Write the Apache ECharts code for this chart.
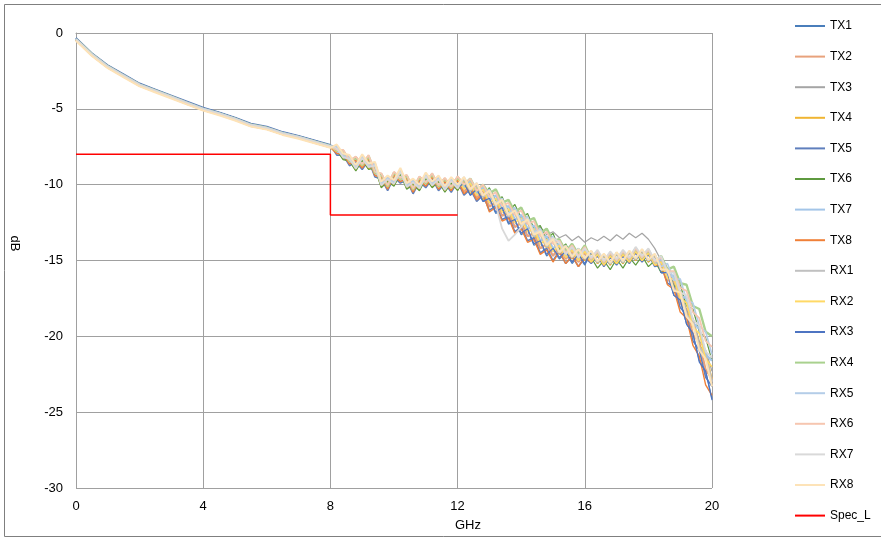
<!DOCTYPE html>
<html><head><meta charset="utf-8">
<script src="https://cdn.jsdelivr.net/npm/echarts@6/dist/echarts.min.js"></script>
<style>html,body{margin:0;padding:0;background:#fff}#c{width:881px;height:539px}</style>
</head><body><div id="c"></div><script>
const freq = [0,0.5,1,1.5,2,2.5,3,3.5,4,4.5,5,5.5,6,6.5,7,7.5,8,
8.2,8.4,8.6,8.8,9,9.2,9.4,9.6,9.8,10,10.2,10.4,10.6,10.8,11,11.2,11.4,11.6,11.8,12,
12.2,12.4,12.6,12.8,13,13.2,13.4,13.6,13.8,14,14.2,14.4,14.6,14.8,15,15.2,15.4,15.6,15.8,16,
16.2,16.4,16.6,16.8,17,17.2,17.4,17.6,17.8,18,18.2,18.4,18.6,18.8,19,19.2,19.4,19.6,19.8,20];

const tx1 = [-0.35,-1.35,-2.15,-2.75,-3.35,-3.75,-4.15,-4.55,-4.95,-5.25,-5.6,-6.0,-6.2,-6.55,-6.8,-7.1,-7.4,
-7.65,-8.25,-8.35,-9.0,-8.3,-8.9,-8.8,-10.1,-9.7,-10.0,-9.2,-10.2,-9.9,-10.3,-9.5,-10.1,-9.7,-10.4,-9.8,-10.3,
-9.9,-10.7,-10.3,-11.1,-11.0,-11.9,-11.6,-12.6,-12.4,-13.3,-13.0,-14.0,-13.8,-14.7,-14.3,-14.9,-14.5,-15.2,-14.7,-15.3,
-14.5,-15.2,-14.7,-15.3,-14.6,-15.2,-14.5,-15.0,-14.4,-15.1,-14.7,-15.8,-15.9,-17.3,-17.6,-19.2,-19.8,-21.6,-22.3,-24.1];
const tx2 = [-0.45,-1.45,-2.25,-2.85,-3.45,-3.85,-4.25,-4.65,-5.05,-5.35,-5.7,-6.1,-6.3,-6.65,-6.9,-7.2,-7.5,
-7.9,-7.9,-8.6,-8.35,-8.85,-8.25,-9.35,-9.45,-10.25,-9.35,-9.75,-9.55,-10.45,-9.65,-10.05,-9.45,-10.25,-9.75,-10.35,-9.65,
-10.45,-10.05,-10.85,-10.45,-11.45,-11.15,-12.05,-11.85,-12.8,-12.5,-13.4,-13.2,-14.2,-13.9,-14.7,-14.1,-14.9,-14.4,-15.1,-14.5,
-15.0,-14.5,-15.2,-14.6,-15.1,-14.5,-15.0,-14.3,-14.9,-14.4,-15.2,-15.1,-16.3,-16.4,-17.8,-18.2,-19.9,-20.4,-22.2,-22.8];
const tx3 = [-0.4,-1.4,-2.2,-2.8,-3.4,-3.8,-4.2,-4.6,-5.0,-5.3,-5.65,-6.05,-6.25,-6.6,-6.85,-7.15,-7.45,
-7.55,-8.15,-8.25,-8.9,-8.2,-8.8,-8.7,-10.0,-9.6,-9.9,-9.1,-10.1,-9.8,-10.2,-9.3,-9.6,-9.5,-9.9,-9.6,-9.8,
-9.7,-10.3,-10.1,-10.7,-10.6,-11.3,-11.2,-12.0,-11.8,-12.4,-12.3,-12.9,-12.8,-13.3,-13.1,-13.5,-13.3,-13.7,-13.4,-13.8,
-13.5,-13.7,-13.4,-13.7,-13.3,-13.6,-13.2,-13.5,-13.2,-13.6,-14.2,-15.0,-15.5,-16.6,-17.0,-18.3,-18.8,-20.3,-20.9,-22.3];
const tx4 = [-0.4,-1.4,-2.2,-2.8,-3.4,-3.8,-4.2,-4.6,-5.0,-5.3,-5.65,-6.05,-6.25,-6.6,-6.85,-7.15,-7.45,
-7.7,-8.3,-8.4,-9.05,-8.35,-8.95,-8.85,-10.15,-9.75,-10.05,-9.25,-10.25,-9.95,-10.35,-9.55,-10.15,-9.75,-10.45,-9.85,-10.35,
-9.8,-10.6,-10.2,-11.0,-10.6,-11.5,-11.2,-12.2,-11.9,-12.8,-12.5,-13.5,-13.3,-14.2,-13.8,-14.6,-14.2,-14.9,-14.4,-15.0,
-14.5,-15.2,-14.7,-15.3,-14.6,-15.2,-14.5,-15.0,-14.4,-15.1,-14.7,-15.7,-15.6,-16.9,-17.0,-18.5,-18.9,-20.6,-21.1,-22.8];
const tx5 = [-0.32,-1.32,-2.12,-2.72,-3.32,-3.72,-4.12,-4.52,-4.92,-5.22,-5.57,-5.97,-6.17,-6.52,-6.77,-7.07,-7.37,
-8.05,-8.05,-8.75,-8.5,-9.0,-8.4,-9.5,-9.6,-10.4,-9.5,-9.9,-9.7,-10.6,-9.8,-10.2,-9.6,-10.4,-9.9,-10.5,-9.8,
-10.7,-10.3,-11.1,-10.7,-11.7,-11.4,-12.3,-12.1,-13.1,-12.8,-13.7,-13.5,-14.5,-14.2,-15.0,-14.4,-15.2,-14.7,-15.4,-14.8,
-15.2,-14.7,-15.4,-14.8,-15.3,-14.7,-15.2,-14.5,-15.1,-14.6,-15.4,-15.3,-16.5,-16.7,-18.1,-18.6,-20.3,-20.9,-22.7,-23.3];
const tx6 = [-0.4,-1.4,-2.2,-2.8,-3.4,-3.8,-4.2,-4.6,-5.0,-5.3,-5.65,-6.05,-6.25,-6.6,-6.85,-7.15,-7.45,
-7.75,-8.35,-8.45,-9.1,-8.4,-9.0,-8.9,-10.2,-9.8,-10.1,-9.3,-10.3,-10.0,-10.4,-9.6,-10.2,-9.8,-10.5,-9.9,-10.4,
-9.6,-10.4,-10.0,-10.8,-10.2,-11.1,-10.8,-11.8,-11.3,-12.2,-11.9,-12.9,-12.7,-13.6,-13.2,-14.3,-13.9,-14.7,-14.2,-14.9,
-14.8,-15.5,-15.0,-15.6,-14.9,-15.5,-14.8,-15.3,-14.7,-15.4,-15.0,-15.8,-15.6,-16.7,-16.6,-18.0,-18.2,-19.7,-20.1,-21.6];
const tx7 = [-0.4,-1.4,-2.2,-2.8,-3.4,-3.8,-4.2,-4.6,-5.0,-5.3,-5.65,-6.05,-6.25,-6.6,-6.85,-7.15,-7.45,
-7.85,-7.85,-8.55,-8.3,-8.8,-8.2,-9.3,-9.4,-10.2,-9.3,-9.7,-9.5,-10.4,-9.6,-10.0,-9.4,-10.2,-9.7,-10.3,-9.6,
-10.2,-9.8,-10.6,-10.2,-11.0,-10.7,-11.6,-11.4,-12.3,-12.0,-12.9,-12.7,-13.7,-13.4,-14.2,-13.9,-14.7,-14.2,-14.9,-14.3,
-15.0,-14.5,-15.2,-14.6,-15.1,-14.5,-15.0,-14.3,-14.9,-14.4,-15.2,-14.9,-16.0,-16.0,-17.3,-17.5,-19.1,-19.5,-21.2,-21.6];
const tx8 = [-0.5,-1.5,-2.3,-2.9,-3.5,-3.9,-4.3,-4.7,-5.1,-5.4,-5.75,-6.15,-6.35,-6.7,-6.95,-7.25,-7.55,
-7.95,-7.95,-8.65,-8.4,-8.9,-8.3,-9.4,-9.5,-10.3,-9.4,-9.8,-9.6,-10.5,-9.7,-10.1,-9.5,-10.3,-9.8,-10.4,-9.7,
-10.6,-10.2,-11.0,-10.6,-11.8,-11.5,-12.4,-12.2,-13.2,-12.9,-13.8,-13.6,-14.6,-14.3,-15.1,-14.4,-15.2,-14.7,-15.4,-14.8,
-15.1,-14.6,-15.3,-14.7,-15.2,-14.6,-15.1,-14.4,-15.0,-14.5,-15.3,-15.3,-16.6,-16.9,-18.4,-18.8,-20.6,-21.3,-23.2,-23.9];
const rx1 = [-0.4,-1.4,-2.2,-2.8,-3.4,-3.8,-4.2,-4.6,-5.0,-5.3,-5.65,-6.05,-6.25,-6.6,-6.85,-7.15,-7.45,
-7.45,-8.05,-8.15,-8.8,-8.1,-8.7,-8.6,-9.9,-9.5,-9.8,-9.0,-10.0,-9.7,-10.1,-9.3,-9.9,-9.5,-10.2,-9.6,-10.1,
-9.6,-10.4,-10.0,-10.8,-10.5,-11.4,-11.1,-12.1,-11.8,-12.7,-12.4,-13.4,-13.2,-14.1,-13.7,-14.5,-14.1,-14.8,-14.3,-14.9,
-14.4,-15.1,-14.6,-15.2,-14.5,-15.1,-14.4,-14.9,-14.3,-15.0,-14.6,-15.6,-15.6,-16.9,-17.0,-18.6,-19.0,-20.7,-21.3,-23.0];
const rx2 = [-0.45,-1.45,-2.25,-2.85,-3.45,-3.85,-4.25,-4.65,-5.05,-5.35,-5.7,-6.1,-6.3,-6.65,-6.9,-7.2,-7.5,
-7.8,-7.8,-8.5,-8.25,-8.75,-8.15,-9.25,-9.35,-10.15,-9.25,-9.65,-9.45,-10.35,-9.55,-9.95,-9.35,-10.15,-9.65,-10.25,-9.55,
-10.3,-9.9,-10.7,-10.3,-11.2,-10.9,-11.8,-11.6,-12.5,-12.2,-13.1,-12.9,-13.9,-13.6,-14.4,-14.0,-14.8,-14.3,-15.0,-14.4,
-15.1,-14.6,-15.3,-14.7,-15.2,-14.6,-15.1,-14.4,-15.0,-14.5,-15.3,-15.1,-16.2,-16.2,-17.5,-17.8,-19.4,-19.8,-21.5,-22.0];
const rx3 = [-0.35,-1.35,-2.15,-2.75,-3.35,-3.75,-4.15,-4.55,-4.95,-5.25,-5.6,-6.0,-6.2,-6.55,-6.8,-7.1,-7.4,
-7.55,-8.15,-8.25,-8.9,-8.2,-8.8,-8.7,-10.0,-9.6,-9.9,-9.1,-10.1,-9.8,-10.2,-9.4,-10.0,-9.6,-10.3,-9.7,-10.2,
-9.9,-10.7,-10.3,-11.1,-10.9,-11.8,-11.5,-12.5,-12.3,-13.2,-12.9,-13.9,-13.7,-14.6,-14.2,-14.8,-14.4,-15.1,-14.6,-15.2,
-14.4,-15.1,-14.6,-15.2,-14.5,-15.1,-14.4,-14.9,-14.3,-15.0,-14.6,-15.8,-15.8,-17.3,-17.6,-19.2,-19.8,-21.7,-22.3,-24.2];
const rx4 = [-0.4,-1.4,-2.2,-2.8,-3.4,-3.8,-4.2,-4.6,-5.0,-5.3,-5.65,-6.05,-6.25,-6.6,-6.85,-7.15,-7.45,
-7.75,-7.75,-8.45,-8.2,-8.7,-8.1,-9.2,-9.3,-10.1,-9.2,-9.6,-9.4,-10.3,-9.5,-9.9,-9.3,-10.1,-9.6,-10.2,-9.5,
-10.0,-9.6,-10.4,-10.0,-10.6,-10.3,-11.2,-11.0,-11.8,-11.5,-12.4,-12.2,-13.2,-12.9,-13.7,-13.6,-14.4,-13.9,-14.6,-14.0,
-14.9,-14.4,-15.1,-14.5,-15.0,-14.4,-14.9,-14.2,-14.8,-14.3,-15.1,-14.7,-15.6,-15.4,-16.5,-16.6,-18.0,-18.2,-19.7,-20.0];
const rx5 = [-0.4,-1.4,-2.2,-2.8,-3.4,-3.8,-4.2,-4.6,-5.0,-5.3,-5.65,-6.05,-6.25,-6.6,-6.85,-7.15,-7.45,
-7.5,-8.1,-8.2,-8.85,-8.15,-8.75,-8.65,-9.95,-9.55,-9.85,-9.05,-10.05,-9.75,-10.15,-9.35,-9.95,-9.55,-10.25,-9.65,-10.15,
-9.5,-10.3,-9.9,-10.7,-10.3,-11.2,-10.9,-11.9,-11.5,-12.4,-12.1,-13.1,-12.9,-13.8,-13.4,-14.4,-14.0,-14.7,-14.2,-14.8,
-14.4,-15.1,-14.6,-15.2,-14.5,-15.1,-14.4,-14.9,-14.3,-15.0,-14.6,-15.4,-15.2,-16.3,-16.2,-17.6,-17.8,-19.3,-19.7,-21.2];
const rx6 = [-0.45,-1.45,-2.25,-2.85,-3.45,-3.85,-4.25,-4.65,-5.05,-5.35,-5.7,-6.1,-6.3,-6.65,-6.9,-7.2,-7.5,
-7.7,-7.7,-8.4,-8.15,-8.65,-8.05,-9.15,-9.25,-10.05,-9.15,-9.55,-9.35,-10.25,-9.45,-9.85,-9.25,-10.05,-9.55,-10.15,-9.45,
-10.0,-9.6,-10.4,-10.0,-10.8,-10.5,-11.4,-11.2,-12.0,-11.7,-12.6,-12.4,-13.4,-13.1,-13.9,-13.7,-14.5,-14.0,-14.7,-14.1,
-14.9,-14.4,-15.1,-14.5,-15.0,-14.4,-14.9,-14.2,-14.8,-14.3,-15.1,-14.8,-15.7,-15.7,-16.8,-17.0,-18.4,-18.8,-20.3,-20.7];
const rx7 = [-0.4,-1.4,-2.2,-2.8,-3.4,-3.8,-4.2,-4.6,-5.0,-5.3,-5.65,-6.05,-6.25,-6.6,-6.85,-7.15,-7.45,
-7.6,-8.2,-8.3,-8.95,-8.25,-8.85,-8.75,-10.05,-9.65,-9.95,-9.15,-10.15,-9.85,-10.25,-9.45,-10.05,-9.65,-10.35,-9.75,-10.25,
-9.5,-10.3,-9.9,-10.7,-10.4,-11.3,-12.9,-13.7,-13.3,-12.8,-12.2,-13.2,-13.0,-13.9,-13.5,-13.8,-14.6,-14.1,-14.8,-14.2,
-14.8,-14.3,-15.0,-14.4,-14.9,-14.3,-14.8,-14.1,-14.7,-14.2,-15.0,-14.7,-15.8,-15.8,-17.1,-17.3,-18.9,-19.3,-21.0,-21.4];
const rx8 = [-0.52,-1.52,-2.32,-2.92,-3.52,-3.92,-4.32,-4.72,-5.12,-5.42,-5.77,-6.17,-6.37,-6.72,-6.97,-7.27,-7.57,
-7.35,-7.95,-8.05,-8.7,-8.0,-8.6,-8.5,-9.8,-9.4,-9.7,-8.9,-9.9,-9.6,-10.0,-9.2,-9.8,-9.4,-10.1,-9.5,-10.0,
-9.5,-10.3,-9.9,-10.7,-10.4,-11.3,-11.0,-12.0,-11.7,-12.6,-12.3,-13.3,-13.1,-14.0,-13.6,-14.45,-14.05,-14.75,-14.25,-14.85,
-14.35,-15.05,-14.55,-15.15,-14.45,-15.05,-14.35,-14.85,-14.25,-14.95,-14.55,-15.6,-15.6,-17.0,-17.1,-18.7,-19.2,-20.9,-21.5,-23.3];

const specX = [0, 8, 8, 12];
const specY = [-8, -8, -12, -12];

const xTicks = [0, 4, 8, 12, 16, 20];
const yTicks = [-30, -25, -20, -15, -10, -5, 0];

const seriesNames = ['TX1','TX2','TX3','TX4','TX5','TX6','TX7','TX8','RX1','RX2','RX3','RX4','RX5','RX6','RX7','RX8','Spec_L'];
const seriesValues = [tx1,tx2,tx3,tx4,tx5,tx6,tx7,tx8,rx1,rx2,rx3,rx4,rx5,rx6,rx7,rx8];
const colors = ['#4a7ebb','#e8a27c','#a5a5a5','#f0b532','#5f7fbd','#5e9a3f','#a3c5e8','#f08038',
                '#c0c0c0','#ffd966','#4d74c2','#a9d18e','#b4cde8','#f6c6b0','#d9d9d9','#fde3b8','#ff0000'];
const widths = [1.2,2.2,1.2,1.4,1.6,1.2,2.2,1.4,2.2,1.6,1.2,2.4,1.6,1.8,1.8,2.0,1.5];

const font = 'Liberation Sans, Arial, sans-serif';
const series = seriesValues.map((ys, k) => ({
  name: seriesNames[k], type: 'line', symbol: 'none', showSymbol: false,
  data: freq.map((f, i) => [f, ys[i]]),
  lineStyle: { color: colors[k], width: widths[k] },
  itemStyle: { color: colors[k] },
  emphasis: { disabled: true }
}));
series.push({
  name: 'Spec_L', type: 'line', symbol: 'none', showSymbol: false,
  data: specX.map((x, i) => [x, specY[i]]),
  lineStyle: { color: colors[16], width: widths[16] },
  itemStyle: { color: colors[16] },
  emphasis: { disabled: true }
});

const chart = echarts.init(document.getElementById('c'));
chart.setOption({
  animation: false,
  backgroundColor: '#fff',
  graphic: [{
    type: 'rect', silent: true, z: -10,
    shape: { x: 4.5, y: 4.5, width: 900, height: 532 },
    style: { fill: 'none', stroke: '#7f7f7f', lineWidth: 1 }
  }],
  grid: { left: 75, right: 169, top: 33, bottom: 51, containLabel: false },
  legend: {
    orient: 'vertical', left: 795, top: 19, padding: 0,
    icon: 'rect', itemWidth: 30, itemHeight: 2, itemGap: 16.6,
    textStyle: { fontSize: 12, color: '#000', fontFamily: font, lineHeight: 14 },
    data: seriesNames
  },
  xAxis: {
    type: 'value', min: xTicks[0], max: xTicks[xTicks.length - 1], interval: 4,
    axisLine: { show: true, lineStyle: { color: '#a0a0a0', width: 1 } },
    axisTick: { show: false },
    splitLine: { show: true, lineStyle: { color: '#a0a0a0', width: 1 } },
    axisLabel: { color: '#000', fontSize: 13, fontFamily: font, margin: 12 },
    name: 'GHz', nameLocation: 'middle', nameGap: 31,
    nameTextStyle: { color: '#000', fontSize: 13, fontFamily: font, padding: [0, 0, 0, 148] }
  },
  yAxis: {
    type: 'value', min: yTicks[0], max: yTicks[yTicks.length - 1], interval: 5,
    axisLine: { show: true, lineStyle: { color: '#a0a0a0', width: 1 } },
    axisTick: { show: false },
    splitLine: { show: true, lineStyle: { color: '#a0a0a0', width: 1 } },
    axisLabel: { color: '#000', fontSize: 13, fontFamily: font, margin: 13 },
    name: 'dB', nameLocation: 'middle', nameGap: 55, nameRotate: -90,
    nameTextStyle: { color: '#000', fontSize: 13, fontFamily: font, padding: [0, 34, 0, 0] }
  },
  series: series
});
</script></body></html>
